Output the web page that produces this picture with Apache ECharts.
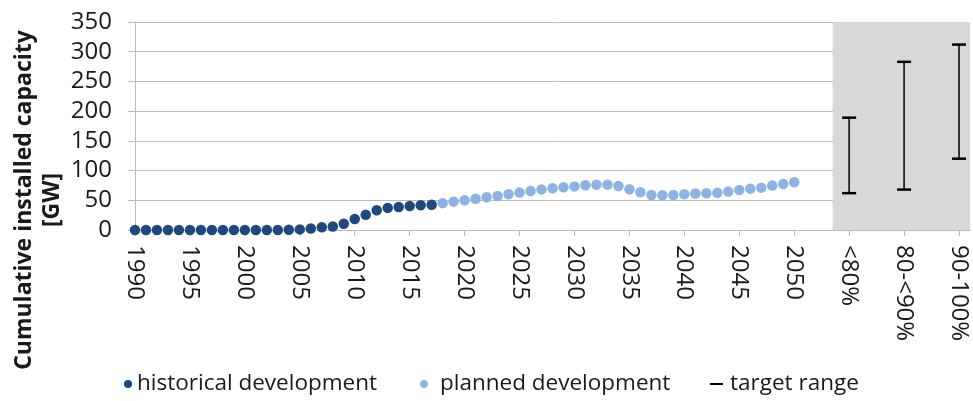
<!DOCTYPE html>
<html>
<head>
<meta charset="utf-8">
<script src="https://cdn.jsdelivr.net/npm/echarts@6/dist/echarts.min.js"></script>
<style>
  html, body { margin: 0; padding: 0; background: #fff; }
  #chart { width: 973px; height: 401px; }
</style>
</head>
<body>
<div id="chart"></div>
<script>
// ---- data ----
const historicalYears = [1990,1991,1992,1993,1994,1995,1996,1997,1998,1999,2000,2001,2002,2003,2004,2005,2006,2007,2008,2009,2010,2011,2012,2013,2014,2015,2016,2017];
const historicalValues = [0,0,0,0,0,0,0,0,0,0,0,0,0,0,0.3,1,2.5,4.5,6,10.5,18.5,25.7,33.3,37.2,38.6,40.5,41.6,42.6];
const plannedYears = [2018,2019,2020,2021,2022,2023,2024,2025,2026,2027,2028,2029,2030,2031,2032,2033,2034,2035,2036,2037,2038,2039,2040,2041,2042,2043,2044,2045,2046,2047,2048,2049,2050];
const plannedValues = [45.2,47.7,50.2,52.7,55,57.3,60.1,62.9,65.5,68.3,70.3,72,73.4,75.4,76.3,76.3,74,68.5,63.5,59,58.5,59,60.1,61.3,61.8,62.5,64.6,67.4,69.6,71.3,74.7,77.5,80.4];
const targetCategories = ['<80%', '80-<90%', '90-100%'];
const targetLow = [62, 68, 120];
const targetHigh = [189, 283, 312];
const yearTickValues = [1990,1995,2000,2005,2010,2015,2020,2025,2030,2035,2040,2045,2050];
const yTicks = [0,50,100,150,200,250,300,350];

// ---- build ----
const lastYear = yearTickValues[yearTickValues.length - 1];
const targetX = targetCategories.map((c, i) => lastYear + 5 * (i + 1));
const labelMap = {};
yearTickValues.forEach(v => { labelMap[v] = String(v); });
targetX.forEach((v, i) => { labelMap[v] = targetCategories[i]; });
const xTicks = yearTickValues.concat(targetX);

const histData = historicalYears.map((y, i) => [y, historicalValues[i]]);
const planData = plannedYears.map((y, i) => [y, plannedValues[i]]);
const targetData = targetX.map((x, i) => [x, targetLow[i], targetHigh[i]]);

const FONT = '"Open Sans", "Noto Sans", sans-serif';
const TXT = '#1a1a1a';
const GRID = '#bcbcbc';

const chart = echarts.init(document.getElementById('chart'), null, { renderer: 'canvas' });
chart.setOption({
  animation: false,
  backgroundColor: '#fff',
  textStyle: { fontFamily: FONT },
  grid: { left: 135, right: 3, top: 22, bottom: 171, containLabel: false },
  xAxis: {
    type: 'value',
    min: 1990,
    max: 2066,
    interval: 5,
    splitLine: { show: false },
    axisLine: { show: true, onZero: false, lineStyle: { color: GRID, width: 1 } },
    axisTick: { show: true, length: 6, customValues: xTicks, lineStyle: { color: GRID } },
    axisLabel: {
      customValues: xTicks,
      rotate: -90,
      margin: 15,
      color: TXT,
      fontFamily: FONT,
      fontSize: 24,
      formatter: v => labelMap[v] !== undefined ? labelMap[v] : ''
    }
  },
  yAxis: {
    type: 'value',
    min: 0,
    max: 350,
    interval: 50,
    splitLine: { show: true, lineStyle: { color: GRID, width: 1 } },
    axisLine: { show: true, lineStyle: { color: GRID, width: 1 } },
    axisTick: { show: true, length: 7, lineStyle: { color: GRID } },
    axisLabel: { margin: 23, color: TXT, fontFamily: FONT, fontSize: 24 }
  },
  graphic: [{
    type: 'text',
    x: 38,
    y: 200,
    rotation: Math.PI / 2,
    style: {
      text: 'Cumulative installed capacity\n[GW]',
      font: 'bold 23px ' + FONT,
      fill: TXT,
      textAlign: 'center',
      textVerticalAlign: 'middle',
      lineHeight: 28
    }
  }],
  legend: [
    {
      data: ['historical development'], left: 124, top: 371, padding: 0,
      itemWidth: 8, itemHeight: 8, icon: 'circle',
      textStyle: { fontFamily: FONT, fontSize: 22.5, color: TXT, lineHeight: 26 }
    },
    {
      data: ['planned development'], left: 420, top: 371, padding: 0,
      itemWidth: 8, itemHeight: 8, icon: 'circle',
      textStyle: { fontFamily: FONT, fontSize: 22.5, color: TXT, lineHeight: 26, padding: [0, 0, 0, 7] }
    },
    {
      data: ['target range'], left: 710, top: 371, padding: 0,
      itemWidth: 13, itemHeight: 2, icon: 'rect',
      textStyle: { fontFamily: FONT, fontSize: 22.5, color: TXT, lineHeight: 26, padding: [0, 0, 0, 2] }
    }
  ],
  series: [
    {
      name: 'bg',
      type: 'scatter',
      data: [],
      z: 1,
      silent: true,
      markArea: {
        silent: true,
        itemStyle: { color: '#d9d9d9' },
        data: [[{ xAxis: 2053.5 }, { xAxis: 2066 }]]
      }
    },
    {
      name: 'historical development',
      type: 'scatter',
      symbol: 'circle',
      symbolSize: 10.5,
      itemStyle: { color: '#1f497d', opacity: 1 },
      data: histData,
      z: 3
    },
    {
      name: 'planned development',
      type: 'scatter',
      symbol: 'circle',
      symbolSize: 10.5,
      itemStyle: { color: '#8db3e2', opacity: 1 },
      data: planData,
      z: 3
    },
    {
      name: 'target range',
      type: 'custom',
      itemStyle: { color: '#000' },
      encode: { x: 0, y: [1, 2] },
      data: targetData,
      z: 3,
      renderItem: function (params, api) {
        const x = api.value(0);
        const pLo = api.coord([x, api.value(1)]);
        const pHi = api.coord([x, api.value(2)]);
        const cap = 7;
        return {
          type: 'group',
          children: [
            { type: 'line', shape: { x1: pLo[0], y1: pLo[1], x2: pHi[0], y2: pHi[1] }, style: { stroke: '#000', lineWidth: 1.5 } },
            { type: 'line', shape: { x1: pLo[0] - cap, y1: pLo[1], x2: pLo[0] + cap, y2: pLo[1] }, style: { stroke: '#000', lineWidth: 2.5 } },
            { type: 'line', shape: { x1: pHi[0] - cap, y1: pHi[1], x2: pHi[0] + cap, y2: pHi[1] }, style: { stroke: '#000', lineWidth: 2.5 } }
          ]
        };
      }
    }
  ]
});
</script>
</body>
</html>
